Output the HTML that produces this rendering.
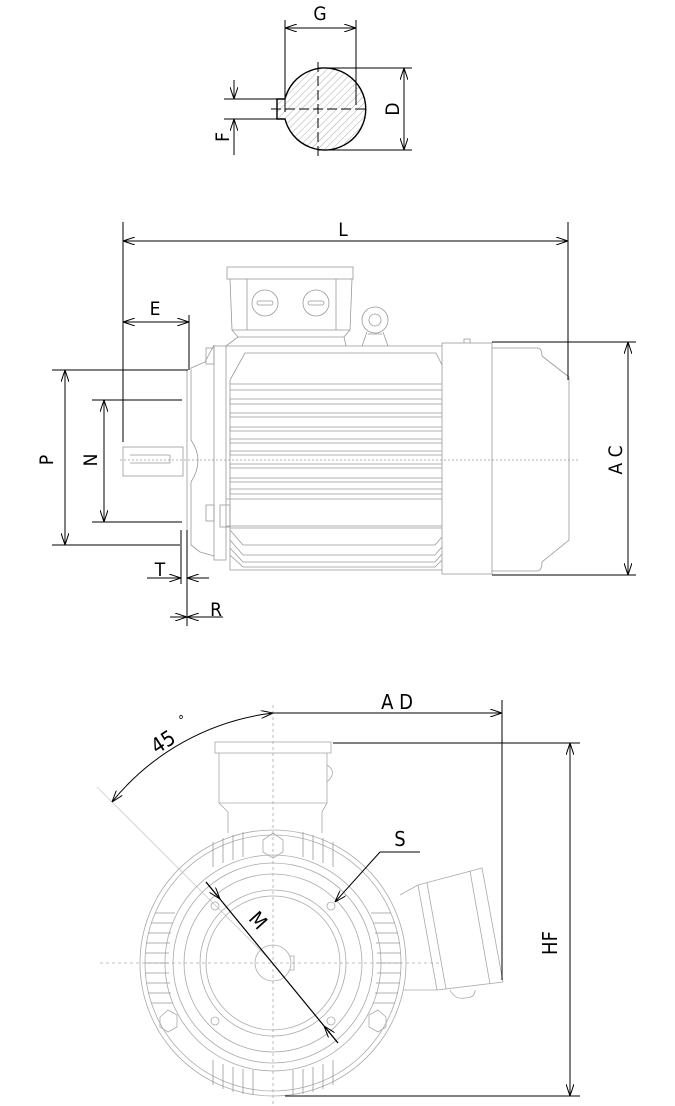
<!DOCTYPE html>
<html><head><meta charset="utf-8"><style>
html,body{margin:0;padding:0;background:#fff}
svg{display:block}
text{font-family:"DejaVu Sans Condensed","DejaVu Sans","Liberation Sans",sans-serif;font-stretch:condensed;fill:#000}
</style></head><body>
<svg width="675" height="1106" viewBox="0 0 675 1106" xmlns="http://www.w3.org/2000/svg">
<defs>
<marker id="a" viewBox="0 0 12 8" refX="12" refY="4" markerWidth="12" markerHeight="8" orient="auto-start-reverse" markerUnits="userSpaceOnUse">
<path d="M0,0 L12,4 L0,8" fill="none" stroke="#000" stroke-width="1"/></marker>
<pattern id="h" width="5" height="5" patternUnits="userSpaceOnUse" patternTransform="rotate(45)">
<line x1="0" y1="0" x2="0" y2="5" stroke="#999" stroke-width="0.8"/></pattern>
</defs>

<!-- ===== TOP: shaft section ===== -->
<g stroke="#000" fill="none" stroke-width="1">
<path d="M285,99 A41,41 0 1 1 285,119 L277,119 L277,99 Z" fill="url(#h)" stroke-width="1.4"/>
<line x1="271" y1="109" x2="366" y2="109" stroke-dasharray="10,4"/>
<line x1="318" y1="62" x2="318" y2="156" stroke-dasharray="10,4"/>
<line x1="285" y1="20" x2="285" y2="112"/>
<line x1="356" y1="20" x2="356" y2="105"/>
<line x1="285" y1="28" x2="356" y2="28" marker-start="url(#a)" marker-end="url(#a)"/>
<line x1="318" y1="68" x2="412" y2="68"/>
<line x1="318" y1="150" x2="412" y2="150"/>
<line x1="404" y1="68" x2="404" y2="150" marker-start="url(#a)" marker-end="url(#a)"/>
<line x1="224" y1="99" x2="277" y2="99"/>
<line x1="224" y1="119" x2="277" y2="119"/>
<line x1="234" y1="80" x2="234" y2="99" marker-end="url(#a)"/>
<line x1="234" y1="155" x2="234" y2="119" marker-end="url(#a)"/>
</g>
<text x="320" y="20" font-size="19" text-anchor="middle">G</text>
<text transform="translate(399,109) rotate(-90)" font-size="19" text-anchor="middle">D</text>
<text transform="translate(229,137) rotate(-90)" font-size="19" text-anchor="middle">F</text>

<!-- ===== SIDE VIEW ===== -->
<g stroke="#999" fill="none" stroke-width="0.8">
<line x1="120" y1="460" x2="578" y2="460" stroke-dasharray="2,2"/>
<!-- shaft -->
<rect x="123" y="447" width="60" height="29"/>
<line x1="130" y1="455" x2="170" y2="455"/><line x1="130" y1="463" x2="170" y2="463"/><line x1="170" y1="455" x2="170" y2="463"/>
<!-- flange / endshield -->
<path d="M187,370 L187,545"/>
<path d="M191,368 L205,362 L214,345 M191,368 L191,440 Q205,460 191,482 L191,545 L200,552 L214,556"/>
<rect x="214" y="346" width="12" height="214"/>
<path d="M226,346 L442,346"/>
<rect x="206" y="348" width="8" height="16"/><rect x="206" y="505" width="8" height="16"/>
<rect x="220" y="505" width="10" height="22"/>
<!-- frame -->
<path d="M230,380 L245,353 L436,353 L442,365"/>
<path d="M230,380 L230,570 L442,570"/>
<path d="M230,384 H442 M230,390 H442 M230,399 H442 M230,404 H442 M230,413 H442 M230,417 H442 M230,427 H442 M230,431 H442 M230,439 H442 M230,443 H442 M230,451 H442 M230,455 H442 M230,464 H442 M230,468 H442 M230,478 H442 M230,482 H442 M230,489 H442 M230,494 H442 M226,499 H442"/>
<path d="M230,399 V404 M230,413 V417 M230,427 V431 M230,439 V443 M230,451 V455 M230,464 V468 M230,478 V482 M230,489 V494"/>
<path d="M226,526 H442 M230,528 H442"/>
<path d="M230,530 L243,545 H435 L442,537 M230,540 L243,555 H435 L442,547 M230,548 L243,562 H435 L442,554 M230,555 L243,567 H435 L442,560"/>
<!-- fan cover -->
<rect x="442" y="343" width="50" height="231"/>
<path d="M492,348 L537,348 Q542,348 542,356 L569,377 L569,540 L542,562 Q542,571 537,571 L492,571"/>
<path d="M464,343 v-4 h6 v4"/>
<!-- terminal box -->
<rect x="227" y="267" width="126" height="12"/>
<path d="M230,279 L232,330 L350,330 L352,279"/>
<path d="M247,279 V330 M336,279 V330"/>
<path d="M232,330 L238,337 L226,346 M350,330 L344,337 L346,346 M238,337 H344"/>
<circle cx="265" cy="303" r="13"/><rect x="257" y="301" width="16" height="4" rx="2"/>
<circle cx="316" cy="303" r="13"/><rect x="308" y="301" width="16" height="4" rx="2"/>
<circle cx="375" cy="320" r="13"/><circle cx="375" cy="320" r="6"/>
<path d="M367,332 L362,346 M383,332 L388,346 M368,334 H382"/>
</g>
<g stroke="#000" fill="none" stroke-width="1">
<line x1="123" y1="222" x2="123" y2="442"/>
<line x1="568" y1="222" x2="568" y2="380"/>
<line x1="123" y1="241" x2="568" y2="241" marker-start="url(#a)" marker-end="url(#a)"/>
<line x1="189" y1="315" x2="189" y2="370"/>
<line x1="123" y1="322" x2="189" y2="322" marker-start="url(#a)" marker-end="url(#a)"/>
<line x1="52" y1="370" x2="188" y2="370"/>
<line x1="52" y1="545" x2="180" y2="545"/>
<line x1="65" y1="370" x2="65" y2="545" marker-start="url(#a)" marker-end="url(#a)"/>
<line x1="92" y1="400" x2="182" y2="400"/>
<line x1="92" y1="522" x2="182" y2="522"/>
<line x1="104" y1="400" x2="104" y2="522" marker-start="url(#a)" marker-end="url(#a)"/>
<line x1="492" y1="342" x2="636" y2="342"/>
<line x1="492" y1="575" x2="636" y2="575"/>
<line x1="628" y1="342" x2="628" y2="575" marker-start="url(#a)" marker-end="url(#a)"/>
<line x1="181" y1="530" x2="181" y2="584"/>
<line x1="187" y1="530" x2="187" y2="626"/>
<line x1="147" y1="578" x2="181" y2="578" marker-end="url(#a)"/>
<line x1="209" y1="578" x2="187" y2="578" marker-end="url(#a)"/>
<line x1="170" y1="617" x2="187" y2="617" marker-end="url(#a)"/>
<line x1="223" y1="617" x2="187" y2="617" marker-end="url(#a)"/>
</g>
<text x="343" y="236" font-size="19" text-anchor="middle">L</text>
<text x="155" y="315" font-size="19" text-anchor="middle">E</text>
<text transform="translate(53,460) rotate(-90)" font-size="19" text-anchor="middle">P</text>
<text transform="translate(97,460) rotate(-90)" font-size="19" text-anchor="middle">N</text>
<text transform="translate(622,460) rotate(-90)" font-size="19" text-anchor="middle">A C</text>
<text x="160" y="576" font-size="19" text-anchor="middle">T</text>
<text x="216" y="616" font-size="19" text-anchor="middle">R</text>

<!-- ===== END VIEW ===== -->
<g stroke="#aaa" fill="none" stroke-width="0.8">
<line x1="100" y1="963" x2="440" y2="963" stroke-dasharray="3,3"/>
<line x1="273" y1="705" x2="273" y2="1106" stroke-dasharray="3,3"/>
<line x1="97" y1="787" x2="273" y2="963" stroke="#ccc"/>
<rect x="215" y="742" width="116" height="11"/>
<path d="M219,753 L219,803 L228,812 L228,833 M327,753 L327,803 L322,812 L322,833 M219,803 L327,803"/>
<path d="M327,765 Q338,772 327,782"/>
<circle cx="273" cy="963" r="133"/>
<circle cx="273" cy="963" r="128"/>
<circle cx="273" cy="963" r="108"/>
<circle cx="273" cy="963" r="100"/>
<circle cx="273" cy="963" r="89"/>
<circle cx="273" cy="963" r="73"/>
<circle cx="273" cy="963" r="67"/>
<circle cx="273" cy="963" r="18"/>
<path d="M289,956 h5 v14 h-5"/>
<circle cx="215" cy="906" r="4"/><circle cx="331" cy="906" r="4"/>
<circle cx="215" cy="1021" r="4"/><circle cx="331" cy="1021" r="4"/>
<polygon points="263,840 273,833 283,840 283,852 273,858 263,852"/>
<polygon points="160,1017 168,1010 177,1015 177,1027 168,1032 160,1027"/>
<polygon points="369,1015 378,1010 386,1017 386,1027 378,1032 369,1027"/>
<g stroke="#999">
<path d="M145,963h24 M145,953h24 M145,973h24 M146,943h24 M146,983h24 M148,933h23 M148,993h23 M151,923h22 M151,1003h22 M155,913h20 M377,963h24 M377,953h24 M377,973h24 M376,943h24 M376,983h24 M375,933h23 M375,993h23 M373,923h22 M373,1003h22 M371,913h20"/>
<path d="M213,842v25 M223,838v25 M233,835v25 M243,832v25 M303,832v25 M313,835v25 M323,838v25 M333,842v25 M213,1085v-25 M223,1089v-25 M233,1092v-25 M243,1094v-25 M253,1095v-25 M293,1095v-25 M303,1094v-25 M313,1092v-25 M323,1089v-25 M333,1085v-25"/>
</g>
<polygon points="418,885 482,868 503,982 437,990"/>
<path d="M427,883 L446,989 M470,871 L490,984"/>
<path d="M400,895 L418,885 M403,990 L437,990"/>
<path d="M450,990 q5,10 15,8 q10,0 10,-8"/>
</g>
<g stroke="#000" fill="none" stroke-width="1">
<line x1="333" y1="743" x2="580" y2="743"/>
<line x1="285" y1="1096" x2="580" y2="1096"/>
<line x1="570" y1="743" x2="570" y2="1096" marker-start="url(#a)" marker-end="url(#a)"/>
<line x1="502" y1="700" x2="502" y2="980"/>
<line x1="273" y1="713" x2="502" y2="713" marker-end="url(#a)"/>
<path d="M273,713 A245,245 0 0 0 112,802" marker-start="url(#a)" marker-end="url(#a)"/>
<line x1="206" y1="882" x2="338" y2="1043" stroke-width="1.2"/>
<line x1="206" y1="882" x2="220" y2="899" marker-end="url(#a)"/>
<line x1="338" y1="1043" x2="324" y2="1026" marker-end="url(#a)"/>
<line x1="420" y1="852" x2="380" y2="852"/>
<line x1="380" y1="852" x2="335" y2="902" marker-end="url(#a)"/>
</g>
<text x="397" y="709" font-size="20" text-anchor="middle">A D</text>
<text transform="translate(557,943) rotate(-90)" font-size="20" text-anchor="middle">HF</text>
<text x="400" y="846" font-size="20" text-anchor="middle">S</text>
<text transform="translate(253,925) rotate(48)" font-size="20" text-anchor="middle">M</text>
<text transform="translate(167,748) rotate(-33)" font-size="21" text-anchor="middle">45</text>
<text x="181" y="725" font-size="13" text-anchor="middle">°</text>
</svg>
</body></html>
